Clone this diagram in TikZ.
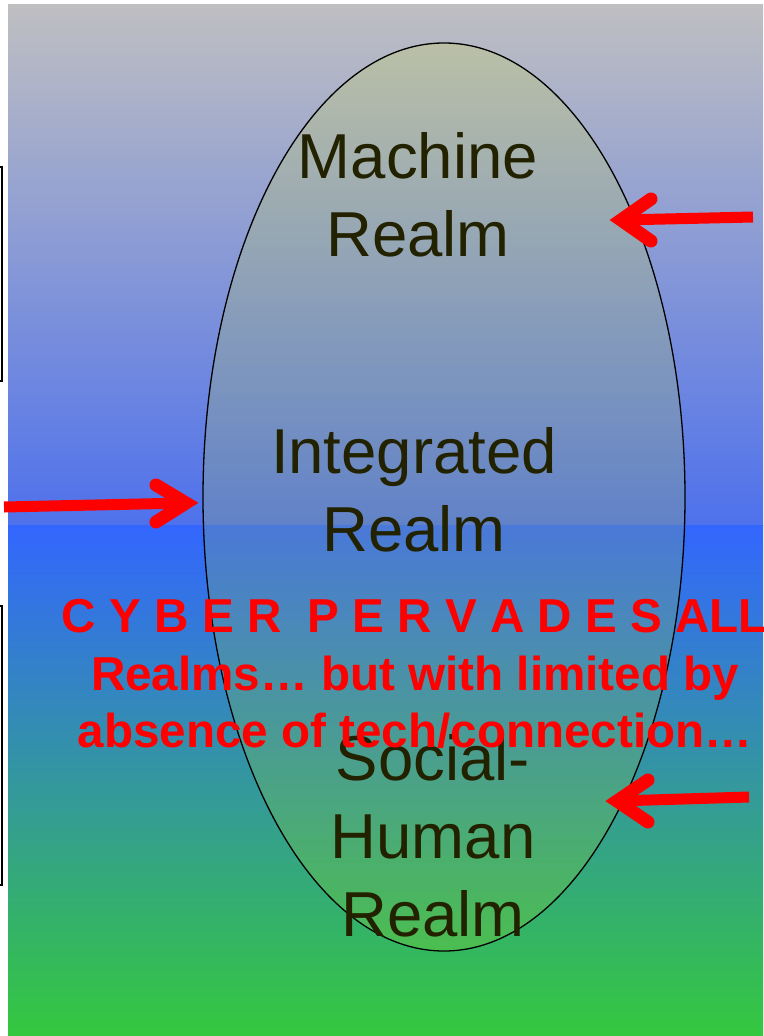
\documentclass[tikz,border=0pt]{standalone}
\usepackage{fontspec}
\setmainfont{Liberation Sans}
\definecolor{bggray}{RGB}{191,191,193}
\definecolor{bgblue}{RGB}{78,113,236}
\definecolor{deepblue}{RGB}{51,102,255}
\definecolor{bggreen}{RGB}{52,200,62}
\definecolor{realmfill}{RGB}{210,230,0}
\definecolor{realmtext}{RGB}{34,34,0}
\tikzset{
	realm/.style={align=center, inner sep=0pt, text=realmtext, font=\fontsize{63.5}{78}\selectfont},
	cyber/.style={align=center, inner sep=0pt, text=red, font=\fontsize{47.6}{57.5}\selectfont\bfseries},
	pointer/.style={draw=red, line width=11pt},
	pointerhead/.style={draw=red, line width=13pt, line cap=round, line join=miter},
}
\begin{document}
\begin{tikzpicture}[x=1pt,y=-1pt]
	\useasboundingbox (0,0) rectangle (763,1036);
	\shade[top color=bggray, bottom color=bgblue] (8,4) rectangle (763,525);
	\shade[top color=deepblue, bottom color=bggreen] (8,525) rectangle (763,1036);
	
	\draw[line width=1.5pt] (-20,167) rectangle (2,381);
	\draw[line width=1.5pt] (-20,606) rectangle (2,885);
	
	\draw[line width=1.3pt, fill=realmfill, fill opacity=0.15] (444,497) ellipse [x radius=241, y radius=454];
	
	\node[realm] (machine) at (418,195) {Machine\\Realm};
	\node[realm] (integrated) at (414,490) {Integrated\\Realm};
	\node[realm] (social) at (433,836) {Social-\\Human\\Realm};
	
	\coordinate (mtail) at (753,217);
	\coordinate (mtip) at (621,220);
	\coordinate (mup) at (651,199);
	\coordinate (mdown) at (651,241);
	\draw[pointer] (mtail) -- (mtip);
	\draw[pointerhead] (mup) -- (mtip) -- (mdown);
	
	\coordinate (stail) at (749,797);
	\coordinate (stip) at (617,801);
	\coordinate (sup) at (648,780);
	\coordinate (sdown) at (648,822);
	\draw[pointer] (stail) -- (stip);
	\draw[pointerhead] (sup) -- (stip) -- (sdown);
	
	\coordinate (itail) at (4,507);
	\coordinate (itip) at (186,503);
	\coordinate (iup) at (156,485);
	\coordinate (idown) at (156,522);
	\draw[pointer] (itail) -- (itip);
	\draw[pointerhead] (iup) -- (itip) -- (idown);
	
	\node[cyber] (cyber) at (415,674) {C Y B E R\ \ P E R V A D E S ALL\\Realms… but with limited by\\absence of tech/connection…};
\end{tikzpicture}
\end{document}
